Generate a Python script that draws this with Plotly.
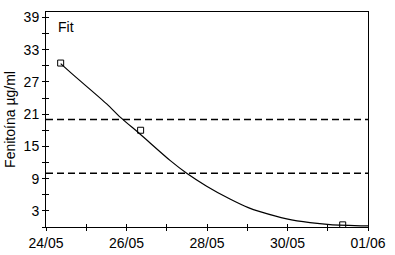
import plotly.graph_objects as go

# Measured concentrations (open squares)
obs_time = ["2000-05-24 08:45", "2000-05-26 08:25", "2000-05-31 08:55"]
obs_conc = [30.5, 18.0, 0.4]

# Fitted curve
fit_time = ["2000-05-24 08:45", "2000-05-24 16:16", "2000-05-25 12:12", "2000-05-25 20:24",
            "2000-05-26 08:02", "2000-05-27 01:57", "2000-05-27 11:54", "2000-05-27 23:48",
            "2000-05-28 13:42", "2000-05-29 00:37", "2000-05-29 07:36", "2000-05-29 23:31",
            "2000-05-30 13:25", "2000-05-31 01:20", "2000-06-01 00:00"]
fit_conc = [30.4, 28.3, 22.9, 20.4, 17.3, 12.4, 10.0, 7.6, 5.2, 3.6, 2.85, 1.5, 0.8, 0.45, 0.2]

# Therapeutic range limits
limits = [20, 10]

x_range = ["2000-05-24", "2000-06-01"]
y_range = [0, 40]
DAY = 86400000

font = "Liberation Sans, Arial, sans-serif"

fig = go.Figure()
fig.add_trace(go.Scatter(x=fit_time, y=fit_conc, mode="lines",
                         line=dict(color="black", width=1.2, shape="spline", smoothing=0.8),
                         hoverinfo="skip", showlegend=False))
fig.add_trace(go.Scatter(x=obs_time, y=obs_conc, mode="markers",
                         marker=dict(symbol="square-open", size=6, color="black",
                                     line=dict(width=1)),
                         showlegend=False))
# invisible trace on the overlay axes (for crossing ticks)
fig.add_trace(go.Scatter(x=[x_range[0]], y=[y_range[0]], mode="markers",
                         marker=dict(opacity=0), xaxis="x2", yaxis="y2",
                         hoverinfo="skip", showlegend=False))

for v in limits:
    fig.add_hline(y=v, line=dict(color="black", width=1.3, dash="7px,4px"))

common_x = dict(type="date", range=x_range, dtick=2 * DAY, tick0="2000-05-24",
                tickformat="%d/%m", ticklen=3, tickcolor="black", tickwidth=1,
                showgrid=False, zeroline=False, automargin=False)
common_y = dict(range=y_range, tick0=3, dtick=6, ticklen=3, tickcolor="black",
                tickwidth=1, showgrid=False, zeroline=False, automargin=False)

fig.update_layout(
    width=395, height=255,
    margin=dict(l=46, r=27, t=12, b=28),
    paper_bgcolor="white", plot_bgcolor="white",
    font=dict(family=font, size=14, color="black"),
    xaxis=dict(**common_x, ticks="outside", showline=True, linecolor="black",
               linewidth=1, mirror=True,
               minor=dict(dtick=DAY, ticks="outside", ticklen=3, tickcolor="black"),
               tickfont=dict(size=14)),
    yaxis=dict(**common_y, ticks="outside", showline=True, linecolor="black",
               linewidth=1, mirror=True,
               minor=dict(dtick=3, tick0=0, ticks="outside", ticklen=3, tickcolor="black"),
               tickfont=dict(size=14),
               title=dict(text="Fenitoína µg/ml", font=dict(size=14), standoff=4)),
    xaxis2=dict(**common_x, ticks="inside", overlaying="x", anchor="y2",
                showticklabels=False, showline=False,
                minor=dict(dtick=DAY, ticks="inside", ticklen=3, tickcolor="black")),
    yaxis2=dict(**common_y, ticks="inside", overlaying="y", anchor="x2",
                showticklabels=False, showline=False,
                minor=dict(dtick=3, tick0=0, ticks="inside", ticklen=3, tickcolor="black")),
    annotations=[dict(text="Fit", xref="paper", yref="paper", x=0.032, y=0.975,
                      xanchor="left", yanchor="top", showarrow=False,
                      font=dict(size=14, family=font))],
)

fig.write_html("out.html", config={"displayModeBar": False},
               post_script="document.body.style.margin='0';document.body.style.padding='0';")
